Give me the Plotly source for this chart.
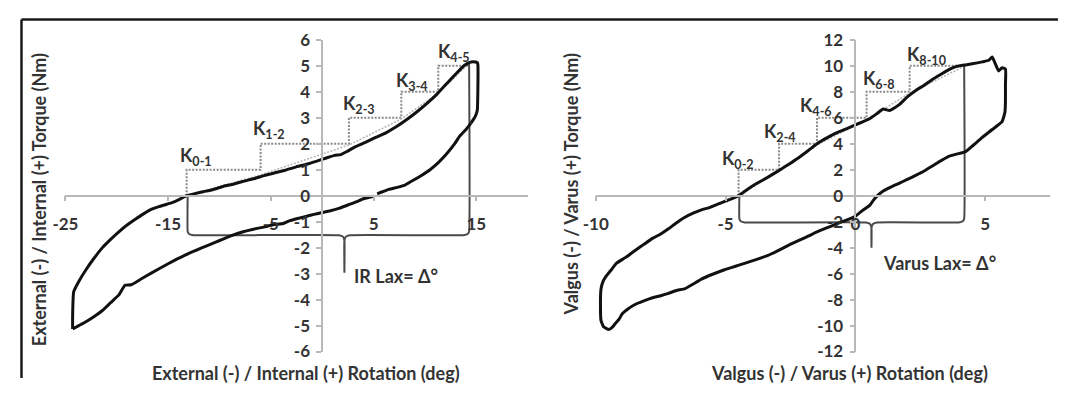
import plotly.graph_objects as go

# ---------------- data ----------------
# Left panel: internal/external rotation hysteresis loop
IR_UP_X = [-24.3, -24.3, -24.2, -23.7, -23.0, -22.2, -21.4, -20.6, -19.8, -19.0, -18.2, -17.4,
           -16.6, -15.9, -15.2, -14.5, -13.8, -13.2, -12.5, -11.6, -10.6, -9.6, -8.6, -7.6,
           -6.6, -5.6, -4.6, -3.6, -2.6, -1.6, -0.6, 0.4, 1.2, 1.8, 2.4, 3.2, 4.2, 5.2, 6.2,
           7.2, 8.2, 9.2, 10.2, 11.2, 12.2, 13.0, 13.8, 14.3, 14.7, 15.1, 15.15, 15.15, 15.1, 14.9, 14.5]
IR_UP_Y = [-5.13, -4.6, -3.7, -3.3, -2.85, -2.4, -2.0, -1.68, -1.39, -1.13, -0.91, -0.70,
           -0.52, -0.42, -0.34, -0.25, -0.12, 0.0, 0.07, 0.15, 0.24, 0.36, 0.45, 0.56,
           0.66, 0.78, 0.88, 0.98, 1.10, 1.20, 1.32, 1.45, 1.55, 1.58, 1.70, 1.88, 2.05, 2.24, 2.42,
           2.65, 2.92, 3.22, 3.55, 3.92, 4.35, 4.68, 5.0, 5.12, 5.15, 5.12, 5.05, 4.0, 3.3, 3.05, 2.8]
IR_DN_X = [14.5, 14.0, 13.4, 12.9, 12.2, 11.3, 10.5, 9.7, 8.9, 8.1, 7.3, 6.5, 5.8, 5.35, None,
           5.0, 4.0, 3.3, 2.5, 1.7, 0.8, 0.0, -0.8, -1.5, -2.4, -3.2, -3.8, -4.8, -5.7, -6.7,
           -7.7, -8.9, -10.2, -11.8, -13.4, -15.0, -16.6, -17.6, -18.6, -19.2, -19.8, -20.6,
           -21.4, -22.2, -23.0, -23.7, -24.3]
IR_DN_Y = [2.8, 2.55, 2.3, 2.0, 1.65, 1.27, 1.0, 0.79, 0.6, 0.42, 0.32, 0.24, 0.14, 0.07, None,
           -0.02, -0.12, -0.24, -0.36, -0.48, -0.58, -0.65, -0.72, -0.79, -0.88, -0.97, -1.07,
           -1.12, -1.21, -1.29, -1.39, -1.55, -1.76, -2.02, -2.30, -2.62, -2.97, -3.2, -3.43,
           -3.45, -3.82, -4.12, -4.42, -4.65, -4.85, -5.0, -5.13]
IR_STEP_X = [-13.2, -6.0, 2.6, 7.7, 11.3, 14.2]     # where the loading curve reaches each level
IR_STEP_Y = [0, 1, 2, 3, 4, 5]                      # torque levels (Nm)
IR_CHORD_Y = [0.0, 0.8, 1.95, 2.95, 3.95, 5.05]
IR_K_LABELS = ["K<sub>0-1</sub>", "K<sub>1-2</sub>", "K<sub>2-3</sub>", "K<sub>3-4</sub>", "K<sub>4-5</sub>"]
IR_K_X = [-14.0, -6.9, 1.8, 7.0, 11.1]
IR_K_Y = [1.5, 2.55, 3.5, 4.4, 5.5]
IR_LAX = dict(x_left=-13.1, x_right=14.3, y_top_right=5.1, level=-1.52, tip_x=2.16, tip_y=-2.97)
IR_XTICKS = [-25, -15, -5, 5, 15]
IR_XTICK_TEXT = ["-25", "-15", "-5", "5", "15"]
IR_YTICKS = [-6, -5, -4, -3, -2, -1, 0, 1, 2, 3, 4, 5, 6]
IR_YTICK_TEXT = ["-6", "-5", "-4", "-3", "-2", "-1", "0", "1", "2", "3", "4", "5", "6"]

# Right panel: varus/valgus hysteresis loop
VV_X = [-9.5, -9.7, -9.8, -9.82, -9.8, -9.72, -9.6, -9.4, -9.2, -8.85, -8.5, -8.15, -7.8, -7.5,
        -7.2, -6.9, -6.6, -6.25, -5.93, -5.6, -5.3, -4.9, -4.5, -4.15, -3.77, -3.35, -2.94, -2.5,
        -2.11, -1.8, -1.48, -1.1, -0.71, -0.35, 0.0, 0.3, 0.56, 0.85, 1.07, 1.32, 1.5, 1.7, 2.0,
        2.34, 2.65, 2.98, 3.3, 3.6, 3.9, 4.19, 4.5, 4.89, 5.14, 5.27, 5.4, 5.52, 5.65, 5.78, 5.78,
        5.78, 5.76, 5.65, 5.27, 4.89, 4.55, 4.25, 3.9, 3.6, 3.3, 2.98, 2.65, 2.34, 2.0, 1.7, 1.4,
        1.07, 0.85, 0.69, 0.56, 0.3, 0.0, -0.3, -0.58, -1.0, -1.48, -1.8, -2.11, -2.45, -2.75,
        -3.05, -3.39, -3.8, -4.27, -4.65, -5.04, -5.5, -5.93, -6.25, -6.56, -6.9, -7.2, -7.5,
        -7.84, -8.15, -8.47, -8.75, -8.98, -9.1, -9.24, -9.35, -9.5]
VV_Y = [-10.3, -10.1, -9.6, -8.5, -7.2, -6.6, -6.2, -5.7, -5.2, -4.75, -4.24, -3.75, -3.27, -2.95,
        -2.55, -2.1, -1.70, -1.35, -1.09, -0.9, -0.65, -0.35, 0.0, 0.5, 0.97, 1.45, 1.94, 2.5,
        3.03, 3.5, 4.0, 4.45, 4.85, 5.15, 5.45, 5.7, 5.94, 6.35, 6.67, 6.55, 6.75, 7.03, 7.6,
        8.12, 8.5, 8.97, 9.35, 9.7, 9.95, 10.06, 10.15, 10.3, 10.42, 10.67, 10.1, 9.6, 9.85, 9.75, 8.5,
        7.2, 6.42, 5.7, 5.09, 4.49, 3.9, 3.39, 3.2, 3.03, 2.7, 2.3, 1.9, 1.58, 1.25, 0.97, 0.7,
        0.36, 0.0, -0.36, -0.73, -1.1, -1.58, -1.85, -2.06, -2.4, -2.79, -3.1, -3.39, -3.7, -4.0,
        -4.3, -4.61, -4.9, -5.21, -5.45, -5.70, -6.05, -6.42, -6.8, -7.15, -7.3, -7.52, -7.7,
        -7.88, -8.1, -8.36, -8.7, -9.09, -9.5, -9.82, -10.1, -10.3]
VV_STEP_X = [-4.5, -2.94, -1.48, 0.43, 2.09, 4.19]
VV_STEP_Y = [0, 2, 4, 6, 8, 10]
VV_CHORD_Y = [0.0, 1.9, 3.9, 5.85, 7.9, 9.95]
VV_K_LABELS = ["K<sub>0-2</sub>", "K<sub>2-4</sub>", "K<sub>4-6</sub>", "K<sub>6-8</sub>", "K<sub>8-10</sub>"]
VV_K_X = [-5.2, -3.6, -2.2, 0.2, 1.9]
VV_K_Y = [2.8, 4.85, 6.9, 8.95, 10.8]
VV_LAX = dict(x_left=-4.47, x_right=4.19, y_top_right=10.0, level=-2.06, tip_x=0.62, tip_y=-4.0)
VV_XTICKS = [-10, -5, 0, 5]
VV_XTICK_TEXT = ["-10", "-5", "0", "5"]
VV_YTICKS = [-12, -10, -8, -6, -4, -2, 0, 2, 4, 6, 8, 10, 12]
VV_YTICK_TEXT = ["-12", "-10", "-8", "-6", "-4", "-2", "0", "2", "4", "6", "8", "10", "12"]

# ---------------- layout geometry ----------------
# The page keeps the browser's default 8px body margin, so the figure is drawn
# 16px smaller and every reference pixel position is shifted by OFF.
OFF = 8
W, H = 1066 - 2 * OFF, 396 - 2 * OFF


def pxx(px):
    return (px - OFF) / W


def pxy(py):
    return 1 - (py - OFF) / H


L_XD = [pxx(53), pxx(521)]
R_XD = [pxx(590), pxx(1050)]
YD = [pxy(360), pxy(30)]
L_XR, L_YR = [-25, 20], [-6, 6]
R_XR, R_YR = [-10, 7.5], [-12, 12]

INK = "#333333"
FONT = "Lato"


def frac(v, rng, dom):
    return dom[0] + (v - rng[0]) / (rng[1] - rng[0]) * (dom[1] - dom[0])


def staircase(xs, ys):
    sx, sy = [xs[0]], [ys[0]]
    for i in range(1, len(xs)):
        sx += [xs[i - 1], xs[i]]
        sy += [ys[i], ys[i]]
    return sx, sy


def brace(p, xr, yr):
    # curly bracket path built from the few key values
    dx = (xr[1] - xr[0]) * 0.008
    dy = (yr[1] - yr[0]) * 0.012
    lv = p["level"]
    bx = [p["x_left"], p["x_left"], p["x_left"] + dx * 0.4, p["x_left"] + dx * 1.5,
          p["tip_x"] - dx * 1.5, p["tip_x"] - dx * 0.4, p["tip_x"], p["tip_x"],
          p["tip_x"], p["tip_x"] + dx * 0.4, p["tip_x"] + dx * 1.5,
          p["x_right"] - dx * 1.5, p["x_right"] - dx * 0.4, p["x_right"], p["x_right"]]
    by = [0, lv + dy, lv + dy * 0.3, lv, lv, lv - dy * 0.4, lv - dy * 1.4, p["tip_y"],
          lv - dy * 1.4, lv - dy * 0.4, lv, lv, lv + dy * 0.3, lv + dy, p["y_top_right"]]
    return bx, by


fig = go.Figure()


def add_panel(xa, ya, loop_parts, step_x, step_y, chord_y, lax, xr, yr):
    sx, sy = staircase(step_x, step_y)
    fig.add_trace(go.Scatter(x=sx, y=sy, mode="lines", xaxis=xa, yaxis=ya,
                             line=dict(color="#8a8a8a", width=2, dash="2px,1.5px")))
    fig.add_trace(go.Scatter(x=step_x, y=chord_y, mode="lines", xaxis=xa, yaxis=ya,
                             line=dict(color="#b5b5b5", width=1.5, dash="2px,1.5px")))
    bx, by = brace(lax, xr, yr)
    fig.add_trace(go.Scatter(x=bx, y=by, mode="lines", xaxis=xa, yaxis=ya,
                             line=dict(color="#4a4a4a", width=2, shape="spline", smoothing=0.3)))
    for lx, ly in loop_parts:
        fig.add_trace(go.Scatter(x=lx, y=ly, mode="lines", xaxis=xa, yaxis=ya,
                                 line=dict(color="#111111", width=3, shape="spline", smoothing=0.4),
                                 connectgaps=False))


add_panel("x", "y", [(IR_UP_X, IR_UP_Y), (IR_DN_X, IR_DN_Y)], IR_STEP_X, IR_STEP_Y,
          IR_CHORD_Y, IR_LAX, L_XR, L_YR)
add_panel("x2", "y2", [(VV_X, VV_Y)], VV_STEP_X, VV_STEP_Y, VV_CHORD_Y, VV_LAX, R_XR, R_YR)

axis_common = dict(showgrid=False, zeroline=False, showline=True, linecolor="#b8b8b8",
                   linewidth=1.5, ticks="outside", ticklen=5, tickcolor="#b8b8b8",
                   tickwidth=1.5, tickmode="array",
                   tickfont=dict(family=FONT, size=17, color=INK, weight="bold"))

fig.update_layout(
    width=W, height=H, margin=dict(l=0, r=0, t=0, b=0), autosize=False,
    paper_bgcolor="white", plot_bgcolor="rgba(0,0,0,0)", showlegend=False,
    font=dict(family=FONT, color=INK),
    xaxis=dict(domain=L_XD, range=L_XR, anchor="free", position=frac(0, L_YR, YD),
               tickvals=IR_XTICKS, ticktext=IR_XTICK_TEXT, ticklabelstandoff=8, **axis_common),
    yaxis=dict(domain=YD, range=L_YR, anchor="free", position=frac(0, L_XR, L_XD),
               tickvals=IR_YTICKS, ticktext=IR_YTICK_TEXT, ticklabelstandoff=3, **axis_common),
    xaxis2=dict(domain=R_XD, range=R_XR, anchor="free", position=frac(0, R_YR, YD),
                tickvals=VV_XTICKS, ticktext=VV_XTICK_TEXT, ticklabelstandoff=8, **axis_common),
    yaxis2=dict(domain=YD, range=R_YR, anchor="free", position=frac(0, R_XR, R_XD),
                tickvals=VV_YTICKS, ticktext=VV_YTICK_TEXT, ticklabelstandoff=3, **axis_common),
)

tfont = dict(family=FONT, size=18, color=INK, weight="bold")
kfont = dict(family=FONT, size=18, color=INK, weight="bold")
ann = []
for t, x, y in zip(IR_K_LABELS, IR_K_X, IR_K_Y):
    ann.append(dict(text=t, x=x, y=y, xref="x", yref="y", xanchor="left", yanchor="middle",
                    showarrow=False, font=kfont))
for t, x, y in zip(VV_K_LABELS, VV_K_X, VV_K_Y):
    ann.append(dict(text=t, x=x, y=y, xref="x2", yref="y2", xanchor="left", yanchor="middle",
                    showarrow=False, font=kfont))
ann.append(dict(text="IR Lax= Δ°", x=2.9, y=-3.1, xref="x", yref="y", xanchor="left",
                yanchor="middle", showarrow=False, font=tfont))
ann.append(dict(text="Varus Lax= Δ°", x=1.0, y=-5.2, xref="x2", yref="y2", xanchor="left",
                yanchor="middle", showarrow=False, font=tfont))
# axis titles
for text, px, py, ang in [("External (-) / Internal (+) Rotation (deg)", 297, 383, 0),
                          ("Valgus (-) / Varus (+) Rotation (deg)", 847, 383, 0),
                          ("External (-) / Internal (+) Torque (Nm)", 27, 199, -90),
                          ("Valgus (-) / Varus (+) Torque (Nm)", 565, 183, -90)]:
    ann.append(dict(text=text, x=pxx(px), y=pxy(py), xref="paper", yref="paper",
                    xanchor="center", yanchor="middle", showarrow=False, textangle=ang,
                    font=tfont))
fig.update_layout(annotations=ann)

# frame lines (top and left)
fig.add_shape(type="line", xref="paper", yref="paper", x0=pxx(8.5), x1=1, y0=pxy(8.5), y1=pxy(8.5),
              line=dict(color="#1a1a1a", width=2.5))
fig.add_shape(type="line", xref="paper", yref="paper", x0=pxx(8.5), x1=pxx(8.5), y0=0, y1=pxy(8.5),
              line=dict(color="#1a1a1a", width=2.5))

fig.write_html("out.html", config={"displayModeBar": False})
